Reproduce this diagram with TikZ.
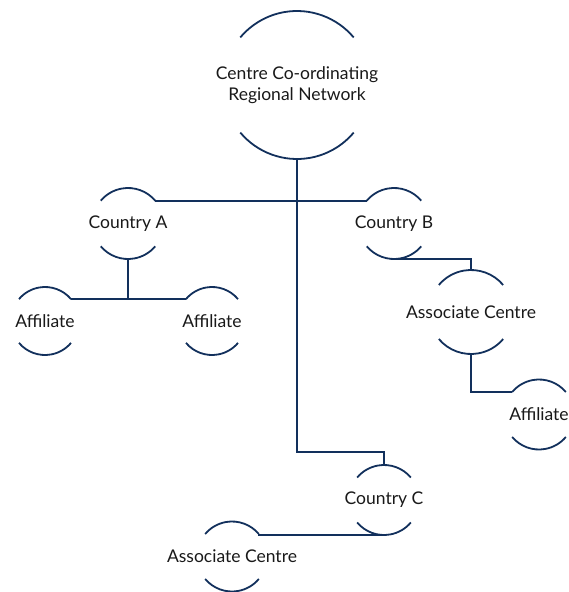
\documentclass[tikz,border=0pt]{standalone}
\usepackage{fontspec}
\setmainfont{Lato}
\begin{document}
\definecolor{navy}{RGB}{18,48,92}
\definecolor{ink}{RGB}{25,25,25}
\tikzset{
  ring/.style={circle, draw=none, inner sep=0pt, outer sep=0pt},
  ringline/.style={draw=navy, line width=1.8pt},
  link/.style={draw=navy, line width=1.8pt},
  caption/.style={text=ink, font=\fontsize{17.5}{21}\selectfont, align=center, inner sep=0pt}
}
% a ring: open circle drawn as a top and a bottom arc, with its caption in the middle
\newcommand\ringnode[5]{%
  \node[ring, minimum size={2*#4pt}] (#1) at (#2,#3) {};
  \draw[ringline] (#1.40) arc[start angle=40, end angle=140, radius=#4pt];
  \draw[ringline] (#1.220) arc[start angle=220, end angle=320, radius=#4pt];
  \node[caption] (#1-t) at (#1.center) {#5};
}
\begin{tikzpicture}[x=1pt, y=-1pt]
\useasboundingbox (0,0) rectangle (568,592);

\ringnode{hub}{297}{85}{74}{Centre Co-ordinating\\Regional Network}
\ringnode{ca}{128}{223.5}{35.5}{Country A}
\ringnode{cb}{394}{223.5}{35.5}{Country B}
\ringnode{cc}{384}{500}{35}{Country C}
\ringnode{afl}{45}{321}{34}{Affiliate}
\ringnode{afr}{212}{321}{34}{Affiliate}
\ringnode{acb}{471}{312}{42}{Associate Centre}
\ringnode{afb}{539}{414.5}{35}{Affiliate}
\ringnode{acc}{232}{556.5}{35}{Associate Centre}

% country A to country B
\draw[link] (ca.40) -- (cb.140);
% hub down to country C
\coordinate (bendc) at (hub.south |- 0,452);
\draw[link] (hub.south) -- (bendc) -| (cc.north);
% country A to its affiliates
\draw[link] (afl.40) -- (afr.140);
\draw[link] (ca.south) -- (ca.south |- afl.40);
% country B branch
\draw[link] (cb.south) -| (acb.north);
\coordinate (bendb) at (acb.south |- afb.140);
\draw[link] (acb.south) -- (bendb) -- (afb.140);
% country C to its associate centre
\draw[link] (cc.south) -- (cc.south -| acc.40) -- (acc.40);
\end{tikzpicture}
\end{document}
